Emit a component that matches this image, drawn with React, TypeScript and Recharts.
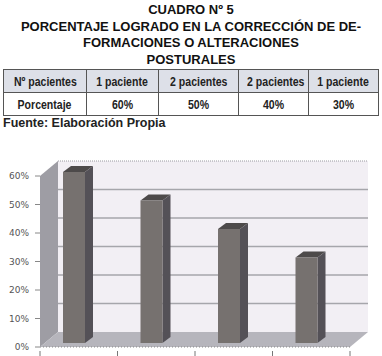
import { BarChart, Bar, XAxis, YAxis, ReferenceArea } from 'recharts';

const categories = ['1 paciente', '2 pacientes', '2 pacientes', '1 paciente'];
const percentages = [0.6, 0.5, 0.4, 0.3];
const yTicks = [0, 0.1, 0.2, 0.3, 0.4, 0.5, 0.6];
const tableHeader = ['Nº pacientes', '1 paciente', '2 pacientes', '2 pacientes', '1 paciente'];
const tableRow = ['Porcentaje', '60%', '50%', '40%', '30%'];

const data = categories.map((c, i) => ({ name: c, value: percentages[i] }));

// 3D depth of the walls
const DX = 18;
const DY = 15;

const Walls = (props: any) => {
  const { x, y, width, height } = props;
  const b = y + height;
  const r = x + width;
  const top = yTicks[yTicks.length - 1];
  return (
    <g>
      <polygon points={`${x},${y} ${x + DX},${y - DY} ${r + DX},${y - DY} ${r + DX},${b - DY} ${x + DX},${b - DY}`} fill="#f2eff4" />
      <polygon points={`${x},${y} ${x + DX},${y - DY} ${x + DX},${b - DY} ${x},${b}`} fill="#9e9da4" />
      <polygon points={`${x},${b} ${x + DX},${b - DY} ${r + DX},${b - DY} ${r},${b}`} fill="#b6b5bc" />
      {yTicks.slice(1, -1).map((t) => {
        const gy = b - (t / top) * height - DY;
        return <line key={t} x1={x + DX} x2={r + DX} y1={gy} y2={gy} stroke="#a6a6ab" strokeWidth={1.5} />;
      })}
      <line x1={x + DX} y1={y - DY} x2={r + DX} y2={y - DY} stroke="#9a9aa0" strokeDasharray="1 1" />
    </g>
  );
};

const Bar3D = (props: any) => {
  const { x, y, width, height } = props;
  const fx = x - 5;
  const fy = y - 4;
  const d = 8;
  const e = 6;
  return (
    <g>
      <polygon points={`${fx},${fy} ${fx + d},${fy - e} ${fx + width + d},${fy - e} ${fx + width},${fy}`} fill="#4d4a4a" />
      <polygon points={`${fx + width},${fy} ${fx + width + d},${fy - e} ${fx + width + d},${fy + height - e} ${fx + width},${fy + height}`} fill="#545157" />
      <rect x={fx} y={fy} width={width} height={height} fill="#76716f" />
    </g>
  );
};

const XTick = (props: any) => {
  const { x, y, index } = props;
  const half = 310 / categories.length / 2;
  return (
    <g>
      <line x1={x - half} x2={x - half} y1={y - 4} y2={y + 1} stroke="#777" />
      {index === categories.length - 1 && <line x1={x + half} x2={x + half} y1={y - 4} y2={y + 1} stroke="#777" />}
    </g>
  );
};

const cell: any = {
  border: '1px solid #555',
  textAlign: 'center',
  padding: 0,
  height: 22,
  whiteSpace: 'nowrap',
  fontFamily: "'Liberation Sans', Arial, sans-serif",
  fontSize: 13.5,
  fontWeight: 'bold',
  color: '#222',
};

const narrow: any = { display: 'inline-block', transform: 'scaleX(0.78)' };

export default function App() {
  return (
    <div style={{ position: 'absolute', left: 0, top: 0, width: 382, height: 356, background: '#fff', overflow: 'hidden' }}>
      <div style={{ position: 'absolute', left: 0, top: 2, width: 382, textAlign: 'center', fontFamily: "'Liberation Sans', Arial, sans-serif", fontWeight: 'bold', fontSize: 13, lineHeight: '16.5px', color: '#111' }}>
        <div>CUADRO Nº 5</div>
        <div>PORCENTAJE LOGRADO EN LA CORRECCIÓN DE DE-</div>
        <div>FORMACIONES O ALTERACIONES</div>
        <div>POSTURALES</div>
      </div>
      <table style={{ position: 'absolute', left: 3, top: 69, width: 375, borderCollapse: 'collapse', tableLayout: 'fixed' }}>
        <colgroup>
          <col style={{ width: 83 }} />
          <col style={{ width: 72 }} />
          <col style={{ width: 80 }} />
          <col style={{ width: 70 }} />
          <col style={{ width: 70 }} />
        </colgroup>
        <tbody>
          <tr style={{ background: '#dde0e8' }}>
            {tableHeader.map((t, i) => <td key={i} style={cell}><span style={narrow}>{t}</span></td>)}
          </tr>
          <tr>
            {tableRow.map((t, i) => <td key={i} style={cell}><span style={narrow}>{t}</span></td>)}
          </tr>
        </tbody>
      </table>
      <div style={{ position: 'absolute', left: 3, top: 116, fontFamily: "'Liberation Sans', Arial, sans-serif", fontWeight: 'bold', fontSize: 12.5, color: '#222' }}>
        Fuente: Elaboración Propia
      </div>
      <div style={{ position: 'absolute', left: 0, top: 0 }}>
        <BarChart width={382} height={356} data={data} margin={{ top: 176, right: 32, bottom: 0, left: 5 }} barSize={22}>
          <ReferenceArea y1={0} y2={0.6} shape={<Walls />} ifOverflow="visible" />
          <XAxis dataKey="name" height={9} tick={<XTick />} tickLine={false} axisLine={{ stroke: '#888', strokeDasharray: '1 2' }} interval={0} />
          <YAxis
            width={35}
            domain={[0, 0.6]}
            ticks={yTicks}
            tickFormatter={(v: number) => `${Math.round(v * 100)}%`}
            axisLine={false}
            tickSize={5}
            tickMargin={6}
            tickLine={{ stroke: '#888' }}
            tick={{ fontSize: 9, fill: '#555', fontFamily: 'DejaVu Sans' }}
          />
          <Bar dataKey="value" shape={<Bar3D />} isAnimationActive={false} />
        </BarChart>
      </div>
    </div>
  );
}
